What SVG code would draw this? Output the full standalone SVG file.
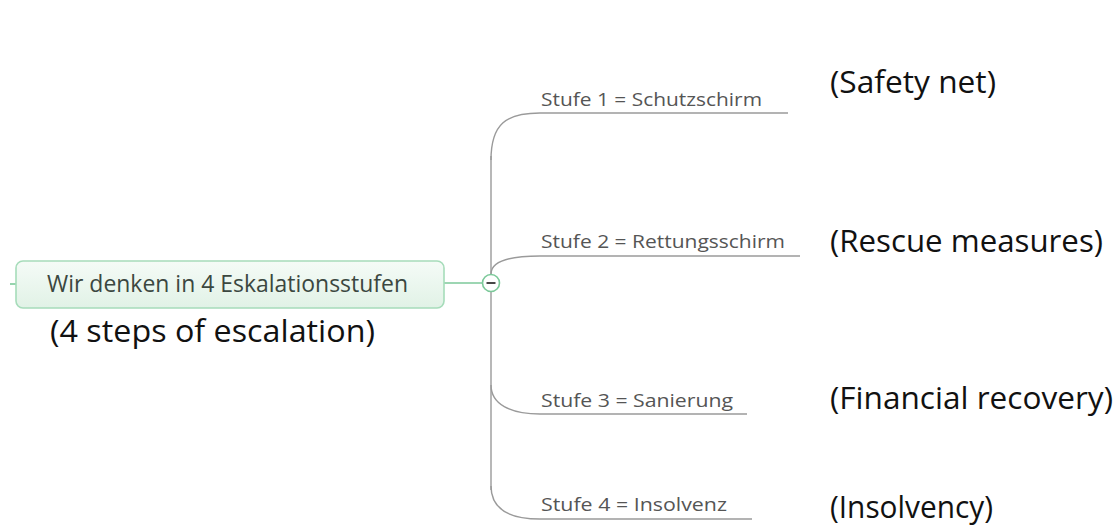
<svg xmlns="http://www.w3.org/2000/svg" width="1120" height="527" viewBox="0 0 1120 527">
  <defs>
    <linearGradient id="boxFill" x1="0" y1="0" x2="0" y2="1">
      <stop offset="0" stop-color="#f5fbf7"/>
      <stop offset="1" stop-color="#e1f2e6"/>
    </linearGradient>
  </defs>
  <style>
    .branch { fill: none; stroke: #9a9a9a; stroke-width: 1.4; }
    .green { fill: none; stroke: #7cc99a; stroke-width: 1.6; }
    .sub { font-family: "Open Sans", "Noto Sans", sans-serif; font-size: 19px; fill: #555555; }
    .note { font-family: "Open Sans", "Noto Sans", sans-serif; font-size: 31px; fill: #111111; }
    .main { font-family: "Open Sans", "Noto Sans", sans-serif; font-size: 24px; fill: #3b4740; }
  </style>
  <rect width="1120" height="527" fill="#ffffff"/>

  <g id="connectors">
    <line class="green" x1="10" y1="284" x2="16" y2="284"/>
    <line class="green" x1="444" y1="283" x2="482" y2="283"/>
    <line class="branch" x1="491" y1="156" x2="491" y2="490"/>
    <path class="branch" d="M491,160 C491,124 506,113 540,113 L788,113"/>
    <path class="branch" d="M491,274 C491,263 505,256 540,256 L800,256"/>
    <path class="branch" d="M491,385 C491,404 510,414 540,414 L747,414"/>
    <path class="branch" d="M491,486 C491,510 510,519 540,519 L752,519"/>
  </g>

  <g id="root">
    <rect x="16" y="261" width="428" height="47" rx="7" ry="7" fill="url(#boxFill)" stroke="#a6dcba" stroke-width="1.6"/>
    <text class="main" x="47" y="292" textLength="361" lengthAdjust="spacingAndGlyphs">Wir denken in 4 Eskalationsstufen</text>
    <text class="note" x="50" y="342" textLength="325" lengthAdjust="spacingAndGlyphs">(4 steps of escalation)</text>
  </g>

  <g id="toggle">
    <circle cx="491" cy="283" r="8.5" fill="#ffffff" stroke="#7cc99a" stroke-width="1.6"/>
    <line x1="486.5" y1="283" x2="495.5" y2="283" stroke="#333333" stroke-width="1.8"/>
  </g>

  <g id="stufe1">
    <text class="sub" x="541" y="106" textLength="221" lengthAdjust="spacingAndGlyphs">Stufe 1 = Schutzschirm</text>
    <text class="note" x="830" y="93" textLength="166" lengthAdjust="spacingAndGlyphs">(Safety net)</text>
  </g>
  <g id="stufe2">
    <text class="sub" x="541" y="248" textLength="244" lengthAdjust="spacingAndGlyphs">Stufe 2 = Rettungsschirm</text>
    <text class="note" x="830" y="252" textLength="273" lengthAdjust="spacingAndGlyphs">(Rescue measures)</text>
  </g>
  <g id="stufe3">
    <text class="sub" x="541" y="407" textLength="192" lengthAdjust="spacingAndGlyphs">Stufe 3 = Sanierung</text>
    <text class="note" x="830" y="409" textLength="283" lengthAdjust="spacingAndGlyphs">(Financial recovery)</text>
  </g>
  <g id="stufe4">
    <text class="sub" x="541" y="511" textLength="186" lengthAdjust="spacingAndGlyphs">Stufe 4 = Insolvenz</text>
    <text class="note" x="830" y="518" textLength="163" lengthAdjust="spacingAndGlyphs">(Insolvency)</text>
  </g>
</svg>
